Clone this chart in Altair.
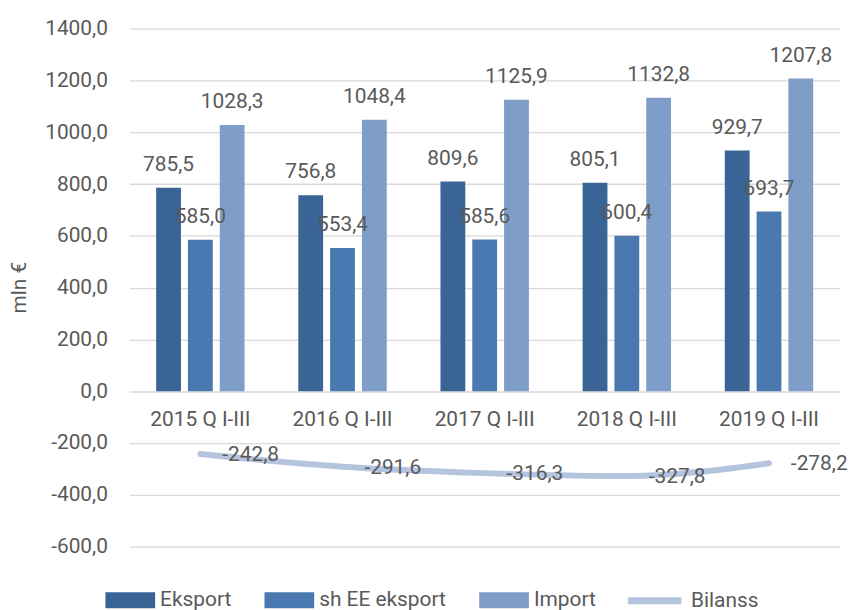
import altair as alt
import pandas as pd

categories = ["2015 Q I-III", "2016 Q I-III", "2017 Q I-III", "2018 Q I-III", "2019 Q I-III"]
eksport = [785.5, 756.8, 809.6, 805.1, 929.7]
sh_ee_eksport = [585.0, 553.4, 585.6, 600.4, 693.7]
import_values = [1028.3, 1048.4, 1125.9, 1132.8, 1207.8]
bilanss = [-242.8, -291.6, -316.3, -327.8, -278.2]
series_names = ["Eksport", "sh EE eksport", "Import"]
bar_colors = ["#3A6496", "#4A78B1", "#7F9DC9"]
line_name = "Bilanss"
line_color = "#B4C4DF"
y_ticks = [-600, -400, -200, 0, 200, 400, 600, 800, 1000, 1200, 1400]


def fmt(v):
    return f"{v:.1f}".replace(".", ",")


rows = []
for s, vals in zip(series_names, [eksport, sh_ee_eksport, import_values]):
    for c, v in zip(categories, vals):
        rows.append({"category": c, "series": s, "value": v, "label": fmt(v)})
bars_df = pd.DataFrame(rows)
line_df = pd.DataFrame({"category": categories, "series": line_name,
                        "value": bilanss, "label": [fmt(v) for v in bilanss]})
cat_df = pd.DataFrame({"category": categories})

FONT = "Roboto"
TXT = "#595959"
FS = 21

x = alt.X("category:N", sort=categories,
          scale=alt.Scale(domain=categories, paddingInner=0.378, paddingOuter=0.189),
          axis=None)
xo = alt.XOffset("series:N", sort=series_names,
                 scale=alt.Scale(domain=series_names, paddingInner=0.22, paddingOuter=0))
y = alt.Y("value:Q",
          scale=alt.Scale(domain=[-600, 1400], nice=False, zero=False),
          axis=alt.Axis(values=y_ticks,
                        labelExpr="replace(replace(format(datum.value, '.1f'), '.', ','), '\u2212', '-')",
                        grid=True, gridColor="#D9D9D9", gridWidth=1.3,
                        domain=False, ticks=False, labelPadding=22,
                        labelFont=FONT, labelFontSize=FS, labelColor=TXT,
                        title="mln €", titleFont=FONT, titleFontSize=FS,
                        titleFontWeight="normal", titleColor=TXT,
                        titleAngle=270, titleX=-110, titleY=260,
                        titleAlign="center", titleBaseline="middle"))

bars = alt.Chart(bars_df).mark_bar().encode(
    x=x, xOffset=xo, y=y,
    color=alt.Color("series:N", sort=series_names,
                    scale=alt.Scale(domain=series_names, range=bar_colors),
                    legend=alt.Legend(orient="none", legendX=-24, legendY=550,
                                      direction="horizontal", title=None,
                                      symbolType="M-1,-0.32L1,-0.32L1,0.32L-1,0.32Z",
                                      symbolSize=2500, symbolStrokeWidth=0,
                                      labelFont=FONT, labelFontSize=FS, labelColor=TXT,
                                      labelOffset=5, columnPadding=33, padding=0)),
)

bar_labels = alt.Chart(bars_df).mark_text(
    font=FONT, fontSize=FS, color=TXT, align="center", baseline="alphabetic", dy=-17
).encode(x=x, xOffset=xo, y=alt.Y("value:Q"), text="label:N")

line = alt.Chart(line_df).mark_line(
    strokeWidth=6, interpolate="monotone", strokeCap="round"
).encode(
    x=x, y=alt.Y("value:Q"),
    stroke=alt.Stroke("series:N",
                      scale=alt.Scale(domain=[line_name], range=[line_color]),
                      legend=alt.Legend(orient="none", legendX=498, legendY=545,
                                        direction="horizontal", title=None,
                                        symbolType="stroke", symbolSize=2900,
                                        symbolStrokeWidth=7,
                                        labelFont=FONT, labelFontSize=FS, labelColor=TXT,
                                        labelOffset=6, padding=0)),
)

line_labels = alt.Chart(line_df).mark_text(
    font=FONT, fontSize=FS, color=TXT, align="left", baseline="middle", dx=22, dy=1
).encode(x=x, y=alt.Y("value:Q"), text="label:N")

cat_labels = alt.Chart(cat_df).mark_text(
    font=FONT, fontSize=FS, color=TXT, align="center", baseline="middle", dy=29
).encode(x=x, y=alt.datum(0), text="category:N")

chart = alt.layer(bars, bar_labels, line, line_labels, cat_labels).resolve_scale(
    color="independent", stroke="independent"
).properties(
    width=715, height=521,
    autosize="none",
    padding={"left": 122, "top": 19, "right": 12, "bottom": 62},
    background="white",
).configure_view(stroke=None)

chart.save("out.html", embed_options={"renderer": "svg", "actions": False})
